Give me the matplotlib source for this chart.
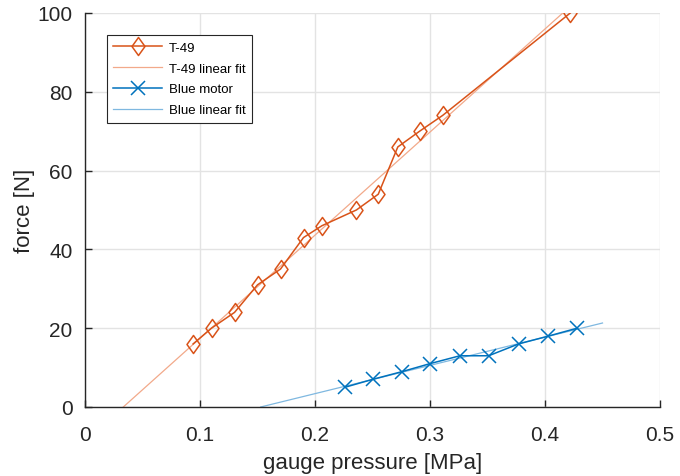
import numpy as np
import matplotlib
matplotlib.use("Agg")
import matplotlib.pyplot as plt
from matplotlib.path import Path

plt.rcParams['font.family'] = ['Liberation Sans', 'DejaVu Sans']

# Data
t49_p = [0.094, 0.110, 0.130, 0.150, 0.170, 0.190, 0.206, 0.236, 0.255, 0.272, 0.291, 0.311, 0.422]
t49_f = [16, 20, 24, 31, 35, 43, 46, 50, 54, 66, 70, 74, 100]
blue_p = [0.226, 0.250, 0.276, 0.300, 0.326, 0.351, 0.377, 0.403, 0.428]
blue_f = [5, 7, 9, 11, 13, 13, 16, 18, 20]

# linear fits
k1, b1 = np.polyfit(t49_p, t49_f, 1)
k2, b2 = np.polyfit(blue_p, blue_f, 1)
x1 = np.array([-b1 / k1, 0.422])
x2 = np.array([-b2 / k2, 0.45])

orange = '#D95319'
blue = '#0072BD'
orange_fit = '#F2A98A'
blue_fit = '#7FB8E0'

diamond = Path([(0, 1), (0.72, 0), (0, -1), (-0.72, 0), (0, 1)],
               [Path.MOVETO, Path.LINETO, Path.LINETO, Path.LINETO, Path.CLOSEPOLY])

fig = plt.figure(figsize=(6.8, 4.77), dpi=100)
ax = fig.add_axes([0.125, 0.1447, 0.8456, 0.826])

ax.plot(t49_p, t49_f, '-', color=orange, marker=diamond, markersize=13, markerfacecolor='none',
        markeredgewidth=1.1, linewidth=1.1, label='T-49', zorder=3)
ax.plot(x1, k1 * x1 + b1, '-', color=orange_fit, linewidth=0.9, label='T-49 linear fit', zorder=2)
ax.plot(blue_p, blue_f, '-', color=blue, marker='x', markersize=10,
        markeredgewidth=1.1, linewidth=1.1, label='Blue motor', zorder=3)
ax.plot(x2, k2 * x2 + b2, '-', color=blue_fit, linewidth=0.9, label='Blue linear fit', zorder=2)

ax.set_xlim(0, 0.5)
ax.set_ylim(0, 100)
ax.set_xticks([0, 0.1, 0.2, 0.3, 0.4, 0.5])
ax.set_xticklabels(['0', '0.1', '0.2', '0.3', '0.4', '0.5'])
ax.set_yticks([0, 20, 40, 60, 80, 100])

ax.grid(True, color='#E3E3E3', linewidth=1.0)
ax.set_axisbelow(True)
for s in ['top', 'right']:
    ax.spines[s].set_visible(False)
for s in ['left', 'bottom']:
    ax.spines[s].set_color('#262626')
    ax.spines[s].set_linewidth(1.0)
ax.tick_params(direction='in', length=5, width=1, colors='#262626', labelsize=15)
ax.tick_params(axis='x', pad=13)
ax.tick_params(axis='y', pad=9)

ax.set_xlabel('gauge pressure [MPa]', fontsize=16, color='#262626', labelpad=6)
ax.set_ylabel('force [N]', fontsize=16, color='#262626', labelpad=2)

leg = ax.legend(loc='upper left', bbox_to_anchor=(0.038, 0.944), fontsize=9.5,
                frameon=True, fancybox=False, edgecolor='#262626', framealpha=1,
                handlelength=3.7, borderpad=0.5, labelspacing=0.65, handletextpad=0.5,
                borderaxespad=0)
leg.get_frame().set_linewidth(0.8)

fig.savefig('out.png', dpi=100)
